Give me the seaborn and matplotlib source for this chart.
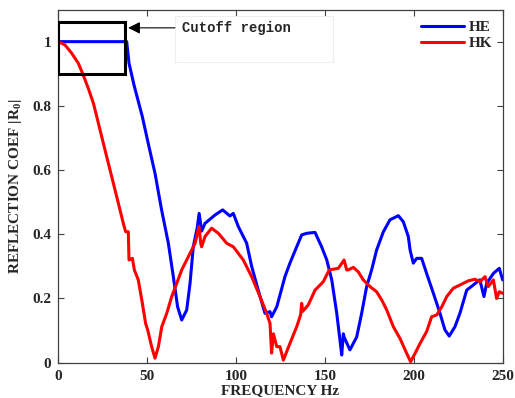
import seaborn as sns
import pandas as pd
import matplotlib.pyplot as plt
from matplotlib.patches import Rectangle

# values
he_freq = [0, 10, 20, 30, 38, 38.6, 39.9, 42.7, 47.4, 50.7, 54.5, 58.2, 62, 64.8, 67.2, 69.5,
           72.3, 74.2, 76, 78.2, 79.3, 80.7, 82.6, 88.2, 92.5, 96.6, 98.5, 101.3, 106, 108.8,
           113.5, 116.3, 119.1, 120, 122.9, 127.5, 130.3, 134.1, 136.9, 139.7, 144.4, 148.1,
           151, 153.8, 156.6, 158.4, 159.4, 160.3, 160.7, 164, 167.8, 170.6, 173.4, 176.2,
           179, 182.8, 186.5, 191.2, 194, 196.8, 197.8, 199.6, 201.5, 204.3, 207.1, 210.9,
           214.6, 217.4, 219.8, 223, 225.8, 229.6, 233.3, 237, 239.3, 240.8, 244.6, 247.9, 249.8]
he_coef = [1.0, 1.0, 1.0, 1.0, 1.0, 1.0, 0.933, 0.865, 0.766, 0.683, 0.59, 0.476, 0.372, 0.268,
           0.174, 0.133, 0.164, 0.248, 0.361, 0.42, 0.465, 0.41, 0.434, 0.46, 0.476, 0.457, 0.465,
           0.424, 0.372, 0.30, 0.206, 0.154, 0.159, 0.143, 0.174, 0.268, 0.31, 0.361, 0.398,
           0.403, 0.406, 0.361, 0.32, 0.258, 0.154, 0.071, 0.024, 0.09, 0.08, 0.04, 0.08, 0.154,
           0.237, 0.289, 0.351, 0.408, 0.445, 0.458, 0.439, 0.393, 0.351, 0.31, 0.325, 0.325,
           0.278, 0.216, 0.154, 0.102, 0.083, 0.112, 0.154, 0.226, 0.242, 0.258, 0.206, 0.247,
           0.278, 0.294, 0.258]

hk_freq = [0.2, 3.9, 7.7, 11.4, 14.2, 17, 19.9, 22.7, 25.5, 28.3, 31.1, 33.9, 36.7, 38, 39.5,
           39.9, 41.8, 42.9, 45.1, 47.4, 49.2, 50.4, 52.6, 54.5, 56.4, 58.3, 61.1, 63.9, 66.7,
           69.5, 73.2, 77, 79.2, 80.2, 80.7, 82.6, 86.3, 90.1, 94.8, 98.5, 104.1, 108.8, 113.5,
           117.2, 119.1, 120, 121, 122.9, 124.7, 126.6, 130.3, 134.1, 136.3, 136.9, 137.5,
           140.6, 144.4, 149, 152.4, 157.5, 160.7, 162.2, 163.1, 165.9, 168.7, 171.5, 175.3,
           179, 181.9, 184.7, 188.4, 192.1, 195.9, 198.1, 200.6, 203.4, 207.1, 209.9, 212.8,
           215.6, 218.4, 222.1, 225.8, 230.5, 234.3, 237.1, 239.9, 241.7, 244.6, 246.4, 247.9,
           249.8]
hk_coef = [1.0, 0.99, 0.964, 0.933, 0.896, 0.855, 0.808, 0.746, 0.683, 0.621, 0.559, 0.497,
           0.434, 0.408, 0.408, 0.32, 0.325, 0.289, 0.258, 0.185, 0.123, 0.102, 0.05, 0.014,
           0.05, 0.112, 0.154, 0.206, 0.247, 0.289, 0.33, 0.372, 0.424, 0.372, 0.361, 0.393,
           0.419, 0.403, 0.372, 0.361, 0.32, 0.268, 0.206, 0.154, 0.123, 0.03, 0.09, 0.05, 0.05,
           0.008, 0.06, 0.112, 0.149, 0.185, 0.16, 0.18, 0.226, 0.252, 0.289, 0.294, 0.32, 0.289,
           0.289, 0.297, 0.283, 0.258, 0.237, 0.221, 0.195, 0.164, 0.112, 0.076, 0.029, 0.003,
           0.029, 0.06, 0.097, 0.143, 0.149, 0.174, 0.206, 0.232, 0.242, 0.255, 0.26, 0.252,
           0.268, 0.237, 0.258, 0.2, 0.221, 0.216]

x_ticks = [0, 50, 100, 150, 200, 250]
y_ticks = [0, 0.2, 0.4, 0.6, 0.8, 1]
y_tick_labels = ["0", "0.2", "0.4", "0.6", "0.8", "1"]

df = pd.concat([
    pd.DataFrame({"freq": he_freq, "coef": he_coef, "mode": "HE", "order": range(len(he_freq))}),
    pd.DataFrame({"freq": hk_freq, "coef": hk_coef, "mode": "HK", "order": range(len(hk_freq))}),
])

sns.set_style("ticks")
plt.rcParams["font.family"] = ["Liberation Serif", "DejaVu Serif"]
plt.rcParams["font.weight"] = "bold"
plt.rcParams["mathtext.fontset"] = "custom"
plt.rcParams["mathtext.rm"] = "Liberation Serif:bold"
plt.rcParams["mathtext.bf"] = "Liberation Serif:bold"

fig = plt.figure(figsize=(5.15, 3.98), dpi=100)
ax = fig.add_axes([0.1126, 0.0887, 0.8641, 0.8873])

sns.lineplot(data=df, x="freq", y="coef", hue="mode", palette={"HE": "#0000ff", "HK": "#ff0000"},
             sort=False, estimator=None, units="mode", lw=2.2, ax=ax)

ax.set_xlim(0, 250)
ax.set_ylim(0, 1.1)
ax.set_xticks(x_ticks)
ax.set_yticks(y_ticks)
ax.set_yticklabels(y_tick_labels)
ax.tick_params(direction="in", top=True, right=True, length=4, width=0.8, color="#404040",
               labelsize=11, pad=5)
for lab in ax.get_xticklabels() + ax.get_yticklabels():
    lab.set_fontweight("bold")
for s in ax.spines.values():
    s.set_color("#404040")
    s.set_linewidth(0.9)

ax.set_xlabel("FREQUENCY Hz", fontsize=11, fontweight="bold", labelpad=1)
ax.set_ylabel(r"REFLECTION COEF |R$_{\mathbf{0}}$|", fontsize=11, fontweight="bold", labelpad=6)

# cutoff box and its annotation
ax.add_patch(Rectangle((0, 0.9), 37.6, 0.16, fill=False, edgecolor="black", lw=2.2, zorder=5))
ax.add_patch(Rectangle((65.7, 0.937), 88.8, 0.143, fill=False, edgecolor="#eeeeee", lw=0.8))
ax.annotate("", xy=(39.4, 1.043), xytext=(65.7, 1.043),
            arrowprops=dict(arrowstyle="-|>", color="black", lw=0.8, mutation_scale=18,
                            shrinkA=0, shrinkB=0))
ax.text(69.6, 1.043, "Cutoff region", fontsize=10, family=["Liberation Mono", "DejaVu Sans Mono"],
        fontweight="bold", va="center", ha="left")

leg = ax.legend(loc="upper right", frameon=False, fontsize=11, handlelength=2.8,
                handletextpad=0.3, labelspacing=0.15, borderaxespad=0.3)
for t in leg.get_texts():
    t.set_fontweight("bold")
leg.set_title(None)

fig.savefig("out.png", dpi=100)
